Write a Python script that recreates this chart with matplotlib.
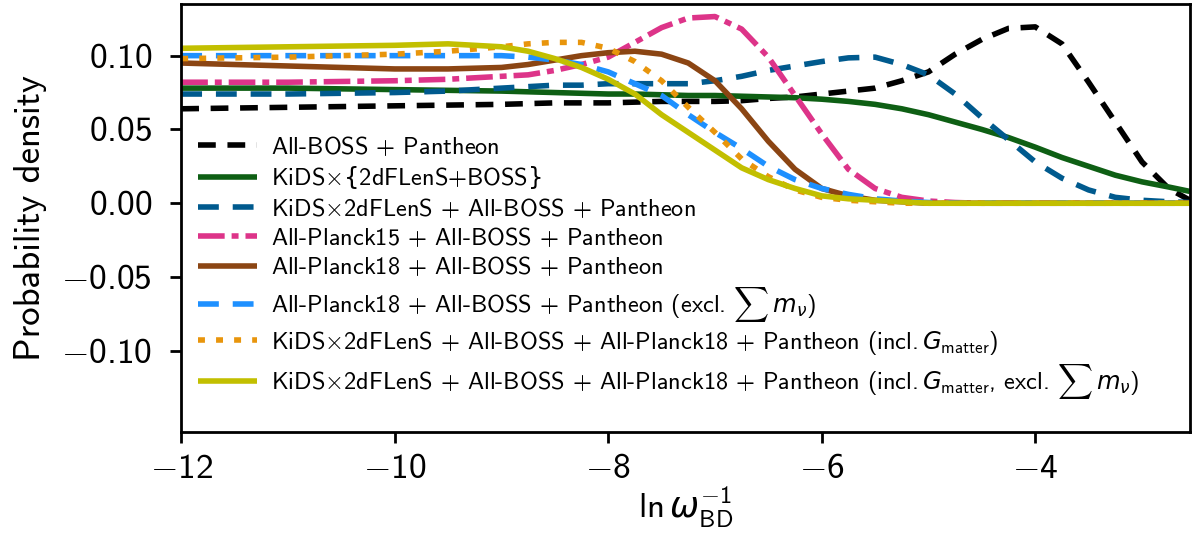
import matplotlib
matplotlib.use("Agg")
import matplotlib.pyplot as plt

plt.rcParams['font.family'] = ['cmss10', 'DejaVu Sans']
plt.rcParams['mathtext.fontset'] = 'custom'
plt.rcParams['mathtext.rm'] = 'cmss10'
plt.rcParams['mathtext.sf'] = 'cmss10'
plt.rcParams['mathtext.it'] = 'DejaVu Sans:italic'
plt.rcParams['mathtext.bf'] = 'cmss10'
plt.rcParams['mathtext.tt'] = 'DejaVu Sans'
plt.rcParams['axes.formatter.use_mathtext'] = True
plt.rcParams['axes.unicode_minus'] = False

# ---------------- data ----------------
x = [-12, -11, -10, -9.5, -9, -8.75, -8.5, -8.25, -8, -7.75, -7.5, -7.25, -7,
     -6.75, -6.5, -6.25, -6, -5.75, -5.5, -5.25, -5, -4.75, -4.5, -4.25, -4,
     -3.75, -3.5, -3.25, -3, -2.75, -2.55]

allboss = [0.064, 0.065, 0.066, 0.0665, 0.067, 0.0675, 0.068, 0.068, 0.068, 0.0685,
           0.069, 0.069, 0.069, 0.0695, 0.071, 0.072, 0.074, 0.076, 0.078, 0.083,
           0.089, 0.101, 0.111, 0.1185, 0.1195, 0.108, 0.082, 0.055, 0.028, 0.010, 0.002]

kids_2df_boss = [0.078, 0.078, 0.077, 0.0765, 0.076, 0.0755, 0.075, 0.0745, 0.074, 0.074,
                 0.0735, 0.073, 0.073, 0.0725, 0.072, 0.0715, 0.0705, 0.069, 0.067, 0.064,
                 0.060, 0.055, 0.050, 0.0445, 0.038, 0.031, 0.025, 0.019, 0.0145, 0.011, 0.008]

kids_allboss = [0.074, 0.074, 0.075, 0.076, 0.078, 0.079, 0.080, 0.080, 0.081, 0.081,
                0.081, 0.081, 0.083, 0.086, 0.090, 0.093, 0.096, 0.0985, 0.099, 0.094,
                0.087, 0.074, 0.058, 0.043, 0.028, 0.017, 0.009, 0.004, 0.002, 0.001, 0.0005]

planck15 = [0.082, 0.082, 0.083, 0.084, 0.086, 0.087, 0.090, 0.094, 0.099, 0.109,
            0.119, 0.1255, 0.1265, 0.118, 0.099, 0.073, 0.047, 0.023, 0.010, 0.004,
            0.0015, 0.0005, 0, 0, 0, 0, 0, 0, 0, 0, 0]

planck18 = [0.095, 0.093, 0.091, 0.091, 0.092, 0.094, 0.097, 0.100, 0.102, 0.103,
            0.101, 0.095, 0.083, 0.064, 0.042, 0.023, 0.010, 0.005, 0.002, 0.001,
            0, 0, 0, 0, 0, 0, 0, 0, 0, 0, 0]

planck18_nomnu = [0.100, 0.100, 0.100, 0.100, 0.100, 0.099, 0.097, 0.094, 0.089, 0.081,
                  0.073, 0.060, 0.048, 0.037, 0.025, 0.016, 0.010, 0.006, 0.003, 0.0015,
                  0.0005, 0, 0, 0, 0, 0, 0, 0, 0, 0, 0]

joint_gm = [0.098, 0.099, 0.101, 0.103, 0.106, 0.108, 0.109, 0.109, 0.105, 0.096,
            0.083, 0.065, 0.048, 0.030, 0.018, 0.009, 0.004, 0.002, 0.001, 0,
            0, 0, 0, 0, 0, 0, 0, 0, 0, 0, 0]

joint_gm_nomnu = [0.105, 0.106, 0.107, 0.108, 0.106, 0.103, 0.098, 0.092, 0.084, 0.074,
                  0.060, 0.048, 0.036, 0.024, 0.016, 0.010, 0.005, 0.003, 0.002, 0.001,
                  0, 0, 0, 0, 0, 0, 0, 0, 0, 0, 0]

xticks = [-12, -10, -8, -6, -4]
yticks = [-0.10, -0.05, 0.00, 0.05, 0.10]

labels = [
    r'All-BOSS $+$ Pantheon',
    r'KiDS$\times\mathtt{\{}$2dFLenS+BOSS$\mathtt{\}}$',
    r'KiDS$\times$2dFLenS $+$ All-BOSS $+$ Pantheon',
    r'All-Planck15 $+$ All-BOSS $+$ Pantheon',
    r'All-Planck18 $+$ All-BOSS $+$ Pantheon',
    r'All-Planck18 $+$ All-BOSS $+$ Pantheon (excl. $\sum\, m_\nu$)',
    r'KiDS$\times$2dFLenS $+$ All-BOSS $+$ All-Planck18 $+$ Pantheon (incl.$\,G_{\rm matter}$)',
    r'KiDS$\times$2dFLenS $+$ All-BOSS $+$ All-Planck18 $+$ Pantheon (incl.$\,G_{\rm matter}$, excl. $\sum\, m_\nu$)',
]

series = [allboss, kids_2df_boss, kids_allboss, planck15, planck18,
          planck18_nomnu, joint_gm, joint_gm_nomnu]
colors = ['#000000', '#0e5f14', '#005a8e', '#dd3489', '#8b4513',
          '#1e90ff', '#e8950c', '#c2bf00']
dashes = [(3.2, 2.1), None, (3.75, 2.5), (4.8, 1.25, 1.25, 1.25), None,
          (3.75, 2.5), (1.25, 2.0), None]

fig = plt.figure(figsize=(11.96, 5.33), dpi=100)
ax = fig.add_axes([0.1515, 0.1895, 0.8435, 0.803])

for y, c, d, lab in zip(series, colors, dashes, labels):
    if d is None:
        ax.plot(x, y, color=c, lw=4, label=lab, solid_capstyle='butt',
                solid_joinstyle='round')
    else:
        ax.plot(x, y, color=c, lw=4, label=lab, dashes=d, dash_capstyle='butt')

ax.set_xlim(-12, -2.55)
ax.set_ylim(-0.155, 0.135)
ax.set_xticks(xticks)
ax.set_yticks(yticks)
ax.set_yticklabels([r'$%.2f$' % v for v in yticks])
ax.set_xticklabels([r'$%d$' % v for v in xticks])
ax.tick_params(axis='both', labelsize=25.5, length=8, width=2, direction='out')
ax.tick_params(axis='y', pad=13)
ax.tick_params(axis='x', pad=8)
for s in ax.spines.values():
    s.set_linewidth(2)

ax.set_xlabel(r'$\ln\omega_{\rm BD}^{-1}$', fontsize=25, labelpad=0)
ax.set_ylabel('Probability density', fontsize=26.5, labelpad=10)

ax.legend(loc='lower left', frameon=False, fontsize=17.5, handlelength=2.4,
          handletextpad=0.6, labelspacing=0.22, borderaxespad=0.3,
          bbox_to_anchor=(0.0, 0.032))

fig.savefig('out.png', dpi=100)
